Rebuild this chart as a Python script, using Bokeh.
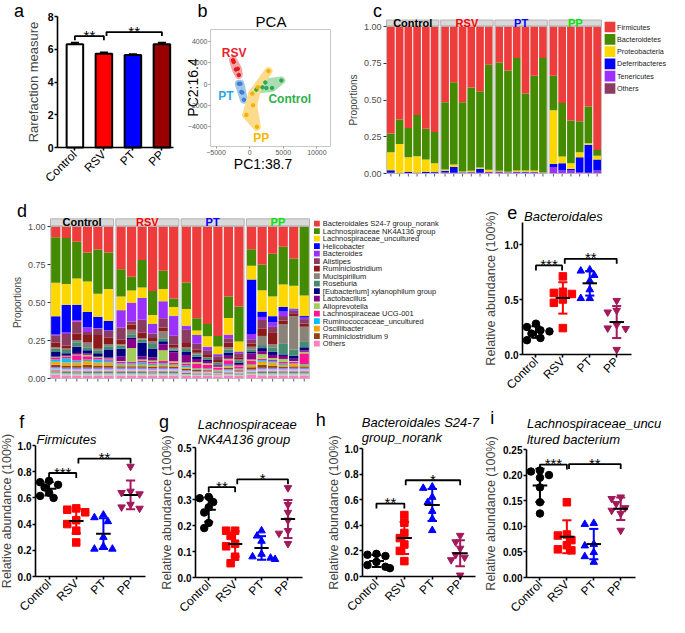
import math
import numpy as np
from bokeh.plotting import figure
from bokeh.layouts import row, column
from bokeh.models import Range1d, FixedTicker, NumeralTickFormatter
from bokeh.core.properties import value
from bokeh.embed import file_html
from bokeh.resources import INLINE

FONT = "Liberation Sans"

# ---------------- data ----------------
groups = ["Control", "RSV", "PT", "PP"]
group_colors = ["black", "#FF0000", "#0000FF", "#A3195B"]
group_markers = ["circle", "square", "triangle", "inverted_triangle"]

# (a) rarefaction
rare_mean = [6.30, 5.72, 5.65, 6.30]
rare_sem = [0.10, 0.08, 0.05, 0.10]
bar_fill = ["white", "#FF0000", "#0000FF", "#990000"]

# (b) PCA scores
pca_ctrl_x = [1000, 1900, 2330, 2480, 3330, 4710]
pca_ctrl_y = [-525, -310, 155, -370, -370, 340]
pca_rsv_x = [-2475, -2380, -2047, -1761, -1618]
pca_rsv_y = [2256, 2094, 1390, 1452, 865]
pca_pt_x = [-1618, -1380, -1238, -1095, -857]
pca_pt_y = [31, 31, -741, -803, -1483]
pca_pp_x = [2800, 1200, 400, 520, -500, 1080]
pca_pp_y = [1230, -300, -900, -2000, -2930, -4050]

# (c) phylum proportions, 24 samples (6 per group)
phyla = ["Firmicutes", "Bacteroidetes", "Proteobacteria", "Deferribacteres", "Tenericutes", "Others"]
phyla_colors = ["#EE3B3B", "#458B00", "#FFD700", "#0000FF", "#9B30FF", "#8B3A62"]
Firmicutes = [.728, .632, .69, .603, .695, .717, .516, .38, .516, .415, .44, .26,
              .245, .30, .215, .455, .335, .215, .335, .52, .64, .645, .545, .84]
Bacteroidetes = [.127, .168, .20, .281, .209, .213, .457, .558, .471, .567, .52, .715,
                 .737, .688, .765, .525, .645, .777, .235, .365, .29, .21, .25, .04]
Proteobacteria = [.123, .197, .098, .111, .084, .058, .009, .017, .004, .006, .007, .013,
                  .004, .004, .008, .008, .01, .002, .365, .045, .04, .035, .01, .025]
Deferribacteres = [.017, .001, .008, .001, .009, .007, .011, .04, .003, .002, .028, .002,
                   .002, .001, .001, .005, .002, .001, .02, .05, .01, .10, .19, .075]
Tenericutes = [.003, .001, .002, .001, .002, .003, .005, .004, .004, .002, .003, .008,
               .008, .004, .007, .004, .005, .003, .042, .018, .018, .008, .003, .018]
PhylumOthers = [.002, .001, .002, .004, .001, .002, .002, .001, .002, .008, .002, .002,
                .004, .003, .004, .003, .003, .002, .003, .002, .002, .002, .002, .002]

# (d) genus proportions
genera = ["Bacteroidales S24-7 group_norank", "Lachnospiraceae NK4A136 group",
          "Lachnospiraceae_uncultured", "Helicobacter", "Bacteroides", "Alistipes",
          "Ruminiclostridium", "Mucispirillum", "Roseburia", "[Eubacterium] xylanophilum group",
          "Lactobacillus", "Alloprevotella", "Lachnospiraceae UCG-001",
          "Ruminococcaceae_uncultured", "Oscillibacter", "Ruminiclostridium 9", "Others"]
genera_colors = ["#EE3B3B", "#458B00", "#FFD700", "#0000FF", "#9B30FF", "#8B3A62", "#8B1A1A",
                 "#8B8378", "#458B74", "#000080", "#8B008B", "#A2CD5A", "#FF1493", "#00BFFF",
                 "#F2A50C", "#8B4513", "#FF7FBF"]
S24_7 = [.07, .075, .10, .17, .15, .17, .28, .33, .22, .43, .29, .48,
         .37, .605, .64, .72, .46, .525, .15, .25, .18, .135, .21, .003]
NK4A136 = [.30, .30, .24, .19, .29, .24, .18, .09, .18, .16, .12, .056,
           .175, .08, .08, .07, .14, .23, .11, .17, .28, .25, .18, .45]
Lach_unc = [.22, .135, .17, .20, .15, .21, .09, .08, .07, .06, .08, .058,
            .11, .03, .07, .05, .11, .065, .09, .14, .13, .15, .15, .135]
Helico = [.12, .18, .10, .10, .075, .06, .003, .003, .003, .003, .003, .003,
          .003, .003, .003, .003, .003, .003, .36, .035, .04, .03, .005, .01]
Bacteroides = [.005, .01, .01, .03, .005, .005, .11, .12, .14, .06, .11, .13,
               .02, .055, .02, .01, .02, .01, .035, .02, .03, .03, .01, .01]
Alistipes = [.05, .075, .08, .02, .04, .045, .08, .02, .085, .03, .06, .06,
             .09, .04, .03, .025, .03, .025, .03, .055, .04, .03, .02, .03]
Rumini = [.03, .02, .04, .05, .09, .04, .03, .035, .035, .02, .025, .02,
          .03, .02, .015, .015, .03, .015, .02, .05, .075, .025, .015, .02]
Mucis = [.01, .01, .015, .03, .01, .015, .01, .03, .01, .02, .045, .01,
         .01, .01, .005, .005, .015, .01, .02, .06, .02, .13, .22, .095]
Roseb = [.02, .02, .03, .02, .02, .025, .02, .02, .02, .03, .02, .01,
         .02, .015, .01, .01, .02, .01, .015, .02, .03, .07, .04, .04]
Eubact = [.03, .015, .04, .02, .02, .05, .05, .01, .09, .06, .02, .01,
          .02, .015, .01, .005, .02, .01, .01, .02, .02, .01, .02, .02]
Lacto = [.005, .005, .01, .01, .005, .005, .03, .06, .02, .02, .04, .06,
         .05, .02, .015, .01, .02, .01, .04, .02, .02, .02, .015, .01]
Allopr = [.005, .005, .005, .01, .005, .005, .005, .09, .01, .01, .07, .01,
          .01, .01, .01, .005, .01, .005, .01, .03, .01, .02, .005, .01]
UCG001 = [.01, .01, .035, .02, .01, .01, .01, .01, .01, .01, .015, .01,
          .01, .03, .025, .015, .03, .015, .02, .01, .01, .01, .01, .07]
Rumino = [.015, .025, .012, .01, .02, .012, .01, .01, .015, .01, .01, .005,
          .01, .005, .005, .005, .01, .005, .005, .01, .01, .01, .005, .005]
Oscill = [.02, .02, .02, .025, .02, .02, .01, .01, .01, .01, .01, .01,
          .01, .008, .006, .006, .01, .006, .015, .02, .02, .01, .015, .01]
Rumini9 = [.015, .015, .015, .02, .015, .015, .01, .01, .01, .01, .01, .01,
           .01, .008, .006, .006, .01, .006, .015, .02, .015, .01, .01, .01]
GenusOthers = [.025, .02, .02, .02, .02, .02, .02, .02, .02, .02, .02, .02,
               .02, .018, .018, .015, .02, .018, .025, .02, .02, .02, .02, .02]
# minor genera drawn but not listed in the legend
minor_colors = ["#9F79EE", "#87CEFA", "#FA8072", "#6C7B8B", "#7CCD7C", "#B0C4DE"]
minor1 = [.010, .008, .012, .010, .009, .011, .010, .009, .008, .011, .010, .009,
          .007, .006, .006, .005, .008, .006, .007, .010, .009, .011, .010, .009]
minor2 = [.009, .010, .008, .009, .011, .008, .008, .010, .009, .008, .009, .010,
          .006, .005, .005, .004, .007, .005, .006, .009, .010, .008, .009, .010]
minor3 = [.008, .009, .009, .008, .008, .009, .009, .008, .010, .009, .008, .008,
          .006, .005, .005, .004, .006, .005, .006, .008, .008, .009, .008, .009]
minor4 = [.008, .007, .008, .009, .008, .008, .008, .009, .008, .008, .009, .008,
          .006, .005, .005, .004, .007, .005, .006, .008, .009, .008, .008, .008]
minor5 = [.008, .008, .007, .007, .007, .007, .007, .007, .008, .007, .007, .008,
          .005, .005, .005, .004, .006, .005, .005, .008, .007, .007, .008, .007]
minor6 = [.007, .008, .006, .007, .007, .007, .008, .007, .007, .007, .007, .007,
          .005, .004, .004, .004, .006, .004, .005, .007, .007, .007, .007, .007]

# (e-i) relative abundances per mouse
bact_ctrl = [0.28, 0.25, 0.22, 0.21, 0.19, 0.15, 0.13]
bact_rsv = [0.71, 0.57, 0.56, 0.55, 0.50, 0.47, 0.24]
bact_pt = [0.77, 0.76, 0.72, 0.67, 0.59, 0.51, 0.51]
bact_pp = [0.49, 0.40, 0.385, 0.27, 0.24, 0.235, 0.045]

firm_ctrl = [0.73, 0.72, 0.70, 0.68, 0.64, 0.615, 0.60]
firm_rsv = [0.52, 0.51, 0.49, 0.43, 0.40, 0.35, 0.26]
firm_pt = [0.47, 0.45, 0.42, 0.30, 0.23, 0.21, 0.21]
firm_pp = [0.84, 0.65, 0.64, 0.63, 0.55, 0.53, 0.52]

nk_ctrl = [0.31, 0.305, 0.29, 0.27, 0.25, 0.21, 0.19]
nk_rsv = [0.18, 0.18, 0.16, 0.13, 0.12, 0.08, 0.055]
nk_pt = [0.18, 0.16, 0.14, 0.09, 0.08, 0.075, 0.07]
nk_pp = [0.345, 0.28, 0.25, 0.22, 0.18, 0.17, 0.13]

s24_ctrl = [0.177, 0.17, 0.16, 0.114, 0.089, 0.076, 0.065]
s24_rsv = [0.48, 0.42, 0.34, 0.30, 0.25, 0.20, 0.12]
s24_pt = [0.70, 0.69, 0.62, 0.58, 0.51, 0.45, 0.36]
s24_pp = [0.32, 0.27, 0.22, 0.17, 0.15, 0.13, 0.01]

lu_ctrl = [0.209, 0.207, 0.20, 0.195, 0.176, 0.147, 0.125]
lu_rsv = [0.147, 0.084, 0.082, 0.073, 0.063, 0.055, 0.053]
lu_pt = [0.106, 0.104, 0.065, 0.062, 0.049, 0.041, 0.03]
lu_pp = [0.157, 0.154, 0.144, 0.136, 0.131, 0.125, 0.092]


# ---------------- helpers ----------------
class Canvas:
    """Figure whose plotting frame fills the whole canvas; (L, T, FW, FH) is the
    visual plot area inside it that the data ranges xr / yr are mapped to."""

    def __init__(self, W, H, L, T, FW, FH, xr, yr, axes=True):
        self.ux = (xr[1] - xr[0]) / FW
        self.uy = (yr[1] - yr[0]) / FH
        self.xr, self.yr, self.L, self.T = xr, yr, L, T
        x0 = xr[0] - L * self.ux
        x1 = xr[0] + (W - L) * self.ux
        y1 = yr[1] + T * self.uy
        y0 = yr[1] - (H - T) * self.uy
        kw = {} if axes else dict(x_axis_location=None, y_axis_location=None)
        p = figure(width=W, height=H, x_range=Range1d(x0, x1), y_range=Range1d(y0, y1),
                   output_backend="svg", toolbar_location=None, tools="", min_border=0, **kw)
        p.xgrid.visible = False
        p.ygrid.visible = False
        p.outline_line_color = None
        p.title.visible = False
        self.p = p

    def fx(self, px):
        return self.xr[0] + (px - self.L) * self.ux

    def fy(self, py):
        return self.yr[1] - (py - self.T) * self.uy

    def text(self, px, py, txt, size, color="black", style="normal", align="center", angle=0.0):
        self.p.text(x=[self.fx(px)], y=[self.fy(py)], text=[txt], text_font=value(FONT),
                    text_font_size=value(size), text_color=color, text_font_style=style,
                    text_align=align, text_baseline="middle", angle=angle)


def gp_axes(cv, yticks, yfmt, ylabel, ymax, label_standoff):
    p = cv.p
    p.yaxis.fixed_location = cv.xr[0]
    p.yaxis.bounds = (0, ymax)
    p.xaxis.fixed_location = cv.yr[0]
    p.xaxis.bounds = cv.xr
    for ax in (p.xaxis[0], p.yaxis[0]):
        ax.axis_line_width = 1.6
        ax.axis_line_color = "black"
        ax.major_tick_line_width = 1.6
        ax.major_tick_out = 3
        ax.major_tick_in = 0
        ax.minor_tick_line_color = None
        ax.major_label_text_font = FONT
        ax.major_label_text_color = "black"
        ax.axis_label_text_font = FONT
        ax.axis_label_text_font_style = "normal"
        ax.axis_label_text_font_size = "12.5px"
        ax.major_label_standoff = 1
    p.yaxis.axis_label_standoff = label_standoff
    p.yaxis.ticker = FixedTicker(ticks=yticks)
    p.yaxis.formatter = NumeralTickFormatter(format=yfmt)
    p.yaxis.major_label_text_font_style = "bold"
    p.yaxis.major_label_text_font_size = "10px"
    p.yaxis.axis_label = ylabel
    p.xaxis.ticker = FixedTicker(ticks=[0, 1, 2, 3])
    p.xaxis.major_label_overrides = {i: g for i, g in enumerate(groups)}
    p.xaxis.major_label_orientation = math.pi / 4
    p.xaxis.major_label_text_font_size = "12px"
    p.xaxis.major_label_standoff = 2


def bracket(p, x0, x1, y, tick, txt):
    p.line([x0, x0, x1, x1], [y - tick, y, y, y - tick], line_color="black", line_width=1.8)
    p.text(x=[(x0 + x1) / 2], y=[y], text=[txt], text_font=value(FONT),
           text_font_size=value("15px"), text_align="center", text_baseline="middle",
           text_color="black", y_offset=-1)


def swarm(vals, ppx, ppy, size):
    vals = np.asarray(vals, dtype=float)
    order = np.argsort(-vals)
    placed = []
    offs = np.zeros(len(vals))
    for i in order:
        ox = 0.0
        for c in [0, -1, 1, -2, 2, -3, 3]:
            ox = c * size * 0.6 / ppx
            if all(math.hypot((ox - po) * ppx, (vals[i] - pv) * ppy) >= size * 0.9
                   for po, pv in placed):
                break
        offs[i] = ox
        placed.append((ox, vals[i]))
    return offs


def dot_panel(W, H, L, T, FW, FH, ymax, yticks, yfmt, data, brackets, title_lines, title_px,
              letter, letter_px, label_standoff):
    xr = (-0.5, 3.55)
    yr = (0, ymax)
    cv = Canvas(W, H, L, T, FW, FH, xr, yr)
    p = cv.p
    ppx, ppy = 1 / cv.ux, 1 / cv.uy
    for gi, vals in enumerate(data):
        v = np.asarray(vals, dtype=float)
        m = v.mean()
        sd = v.std(ddof=1)
        col = group_colors[gi]
        offs = swarm(v, ppx, ppy, 7.5)
        p.scatter(x=gi + offs, y=v, marker=group_markers[gi], size=7.5,
                  fill_color=col, line_color=col)
        p.segment(x0=[gi], y0=[m - sd], x1=[gi], y1=[m + sd], line_color=col, line_width=2)
        p.segment(x0=[gi - 0.17, gi - 0.17], y0=[m - sd, m + sd], x1=[gi + 0.17, gi + 0.17],
                  y1=[m - sd, m + sd], line_color=col, line_width=2)
        p.segment(x0=[gi - 0.27], y0=[m], x1=[gi + 0.27], y1=[m], line_color="black",
                  line_width=2)
    tick = 5 * cv.uy
    for x0, x1, y, txt in brackets:
        bracket(p, x0, x1, y, tick, txt)
    gp_axes(cv, yticks, yfmt, "Relative abundance (100%)", ymax, label_standoff)
    for line, (tx, ty) in zip(title_lines, title_px):
        cv.text(tx, ty, line, "13px", style="italic", align="left")
    cv.text(letter_px[0], letter_px[1], letter, "18px")
    return p


def facet_panel(W, H, L, T, FW, FH, strip_px, layers, colors, letter, letter_px):
    P = 6.2
    xr = (-0.5, 3 * P + 5.5)
    yr = (0, 1.0)
    cv = Canvas(W, H, L, T, FW, FH, xr, yr, axes=True)
    p = cv.p
    p.xaxis.visible = False
    n = len(layers[0])
    xs = [(i // 6) * P + (i % 6) for i in range(n)]
    arr = np.array(layers, dtype=float)
    tot = arr.sum(axis=0)
    cum = np.zeros(n)
    for vals, col in zip(arr, colors):
        v = vals / tot
        p.vbar(x=xs, bottom=cum, top=cum + v, width=0.88, fill_color=col, line_color=None)
        cum = cum + v
    # small ticks under each bar
    p.segment(x0=xs, y0=[0] * n, x1=xs, y1=[-3 * cv.uy] * n, line_color="#333333", line_width=0.8)
    ytop = cv.fy(strip_px)
    strip_colors = ["black", "#FF0000", "#0000FF", "#00E600"]
    for k, g in enumerate(groups):
        x0 = k * P - 0.5
        x1 = k * P + 5.5
        p.quad(left=[x0], right=[x1], bottom=[0], top=[1], fill_color=None,
               line_color="#B3B3B3", line_width=0.8)
        p.quad(left=[x0], right=[x1], bottom=[1.004], top=[ytop], fill_color="#D9D9D9",
               line_color="#A6A6A6", line_width=0.8)
        p.text(x=[(x0 + x1) / 2], y=[(1.004 + ytop) / 2], text=[g], text_font=value(FONT),
               text_font_size=value("11px"), text_font_style="bold", text_color=strip_colors[k],
               text_align="center", text_baseline="middle")
    p.yaxis.fixed_location = -0.5
    p.yaxis.bounds = (0, 1)
    p.yaxis.ticker = FixedTicker(ticks=[0, 0.25, 0.5, 0.75, 1.0])
    p.yaxis.formatter = NumeralTickFormatter(format="0.00")
    p.yaxis.axis_line_color = None
    p.yaxis.major_tick_out = 3
    p.yaxis.major_tick_in = 0
    p.yaxis.major_tick_line_color = "#333333"
    p.yaxis.minor_tick_line_color = None
    p.yaxis.major_label_text_font = FONT
    p.yaxis.major_label_text_font_size = "9px"
    p.yaxis.major_label_text_color = "#4D4D4D"
    p.yaxis.major_label_standoff = 2
    p.yaxis.axis_label = "Proportions"
    p.yaxis.axis_label_text_font = FONT
    p.yaxis.axis_label_text_font_style = "normal"
    p.yaxis.axis_label_text_font_size = "10px"
    p.yaxis.axis_label_standoff = 2
    cv.text(letter_px[0], letter_px[1], letter, "18px")
    return p


def legend_fig(W, H, names, colors, xbox, bw, bh, y0, dy, xtext, fs):
    p = figure(width=W, height=H, x_range=Range1d(0, W), y_range=Range1d(H, 0),
               output_backend="svg", toolbar_location=None, tools="", min_border=0,
               x_axis_location=None, y_axis_location=None)
    p.xgrid.visible = False
    p.ygrid.visible = False
    p.outline_line_color = None
    p.title.visible = False
    nn = len(names)
    ys = [y0 + i * dy for i in range(nn)]
    p.rect(x=[xbox] * nn, y=ys, width=bw, height=bh, fill_color=colors, line_color=None)
    p.text(x=[xtext] * nn, y=ys, text=names, text_font=value(FONT), text_font_size=value(fs),
           text_baseline="middle", text_align="left", text_color="#1A1A1A")
    return p


def convex_hull(px, py):
    pts = sorted(set(zip(px, py)))
    if len(pts) < 3:
        return [q[0] for q in pts], [q[1] for q in pts]

    def cross(o, a, b):
        return (a[0] - o[0]) * (b[1] - o[1]) - (a[1] - o[1]) * (b[0] - o[0])
    lower, upper = [], []
    for q in pts:
        while len(lower) >= 2 and cross(lower[-2], lower[-1], q) <= 0:
            lower.pop()
        lower.append(q)
    for q in reversed(pts):
        while len(upper) >= 2 and cross(upper[-2], upper[-1], q) <= 0:
            upper.pop()
        upper.append(q)
    hh = lower[:-1] + upper[:-1]
    return [q[0] for q in hh], [q[1] for q in hh]


# ---------------- panel a ----------------
cva = Canvas(176, 190, 57, 16, 116, 131, (-0.6, 3.4), (0, 8))
fa = cva.p
fa.vbar(x=[0, 1, 2, 3], top=rare_mean, width=0.57, fill_color=bar_fill,
        line_color="black", line_width=2)
xs_a = np.arange(4)
tops = np.array(rare_mean) + np.array(rare_sem)
fa.segment(x0=xs_a, y0=rare_mean, x1=xs_a, y1=tops, line_color="black", line_width=2)
fa.segment(x0=xs_a - 0.14, y0=tops, x1=xs_a + 0.14, y1=tops, line_color="black", line_width=2)
tick_a = 4 * cva.uy
bracket(fa, 0, 1, 6.8, tick_a, "**")
bracket(fa, 1.09, 3.0, 7.05, tick_a, "**")
gp_axes(cva, [0, 2, 4, 6, 8], "0", "Rarefaction measure", 8, 4)
fa.yaxis.axis_label_text_font_size = "13px"
fa.yaxis.major_label_text_font_size = "10.5px"
cva.text(18.5, 10.5, "a", "18px")

# ---------------- panel b ----------------
cvb = Canvas(156, 190, 34, 29, 120, 117, (-5830, 12030), (-5910, 5170))
fb = cvb.p
fb.quad(left=[cvb.xr[0]], right=[cvb.xr[1]], bottom=[cvb.yr[0]], top=[cvb.yr[1]],
        fill_color=None, line_color="#C8C8C8", line_width=1)
pca_sets = [
    ("Control", pca_ctrl_x, pca_ctrl_y, "#A9DEB3", "#2DAA4F", "#2DB04B", (5970, -1376)),
    ("PT", pca_pt_x, pca_pt_y, "#A2C6EA", "#3C7FD0", "#2AA7E1", (-3550, -1147)),
    ("RSV", pca_rsv_x, pca_rsv_y, "#F5A3A4", "#E31A1C", "#E8212B", (-2319, 2982)),
    ("PP", pca_pp_x, pca_pp_y, "#FCDC8C", "#F2B300", "#F8B800", (1740, -5092)),
]
for name, gx, gy, fillc, ptc, labc, lpos in pca_sets:
    if name == "PP":
        order = list(np.argsort(-np.array(gy)))
        for k in range(len(order) - 2):
            idx = order[k:k + 3]
            hx, hy = convex_hull([gx[i] for i in idx], [gy[i] for i in idx])
            fb.patch(hx, hy, fill_color=fillc, line_color=fillc, line_width=8, line_join="round")
    else:
        hx, hy = convex_hull(gx, gy)
        fb.patch(hx, hy, fill_color=fillc, line_color=fillc, line_width=8, line_join="round")
for name, gx, gy, fillc, ptc, labc, lpos in pca_sets:
    fb.scatter(x=gx, y=gy, size=3.5, fill_color=ptc, line_color=ptc)
    fb.text(x=[lpos[0]], y=[lpos[1]], text=[name], text_font=value(FONT),
            text_font_size=value("12px"), text_font_style="bold", text_color=labc,
            text_align="center", text_baseline="middle")
fb.xaxis.fixed_location = cvb.yr[0]
fb.yaxis.fixed_location = cvb.xr[0]
fb.xaxis.ticker = FixedTicker(ticks=[-5000, 0, 5000, 10000])
fb.yaxis.ticker = FixedTicker(ticks=[-4000, -2000, 0, 2000, 4000])
for ax in (fb.xaxis[0], fb.yaxis[0]):
    ax.axis_line_color = None
    ax.major_tick_out = 2
    ax.major_tick_in = 0
    ax.major_tick_line_color = "#999999"
    ax.minor_tick_line_color = None
    ax.major_label_text_font = FONT
    ax.major_label_text_font_size = "7px"
    ax.major_label_text_color = "#595959"
    ax.major_label_standoff = 1
cvb.text(86.5, 163, "PC1:38.7", "14px")
cvb.text(16.4, 87, "PC2:16.4", "14px", angle=math.pi / 2)
cvb.text(94.5, 21.4, "PCA", "15px")
cvb.text(26, 10.5, "b", "18px")

# ---------------- panel c ----------------
fc = facet_panel(271, 190, 54, 26, 215, 147, 19.5,
                 [PhylumOthers, Tenericutes, Deferribacteres, Proteobacteria, Bacteroidetes,
                  Firmicutes],
                 phyla_colors[::-1], "c", (45, 10.5))
fcl = legend_fig(66, 190, phyla, phyla_colors, 6.5, 10.7, 10.7, 26.5, 12.3, 13.5, "7.2px")

# ---------------- panel d ----------------
d_layers = [GenusOthers, minor6, minor5, minor4, minor3, minor2, minor1, Rumini9, Oscill,
            Rumino, UCG001, Allopr, Lacto, Eubact, Roseb, Mucis, Rumini, Alistipes,
            Bacteroides, Helico, Lach_unc, NK4A136, S24_7]
d_cols = [genera_colors[16]] + minor_colors[::-1] + genera_colors[15::-1]
fd = facet_panel(311, 195, 50, 36, 259, 152, 28.3, d_layers, d_cols, "d", (21.5, 20))
fdl = legend_fig(170, 195, genera, genera_colors, 5.4, 5.8, 5.8, 33.2, 7.5, 11.3, "7.5px")

# ---------------- panels e-i ----------------
fe = dot_panel(188, 209, 41, 32, 109, 132, 1.2, [0, 0.5, 1.0], "0.0",
               [bact_ctrl, bact_rsv, bact_pt, bact_pp],
               [(0, 0.97, 0.81, "***"), (1.07, 3, 0.87, "**")],
               ["Bacteroidales"], [(42.5, 26.4)], "e", (30.7, 22), 4)
ff = dot_panel(158, 232, 35, 60, 110, 131, 1.0, [0, 0.2, 0.4, 0.6, 0.8, 1.0], "0.0",
               [firm_ctrl, firm_rsv, firm_pt, firm_pp],
               [(0, 1.0, 0.79, "***"), (1.08, 3, 0.90, "**")],
               ["Firmicutes"], [(36, 53.5)], "f", (21.2, 36), 1)
fg = dot_panel(158, 232, 37, 62, 107, 130, 0.5, [0, 0.1, 0.2, 0.3, 0.4, 0.5], "0.0",
               [nk_ctrl, nk_rsv, nk_pt, nk_pp],
               [(0, 1.0, 0.3475, "**"), (1.08, 3, 0.3775, "*")],
               ["Lachnospiraceae", "NK4A136 group"], [(39.3, 39), (39.3, 53.5)], "g",
               (5.6, 36), 1)
fh = dot_panel(165, 232, 46, 63, 113, 128, 1.0, [0, 0.2, 0.4, 0.6, 0.8, 1.0], "0.0",
               [s24_ctrl, s24_rsv, s24_pt, s24_pp],
               [(0, 1.0, 0.57, "**"), (1.05, 3, 0.752, "*")],
               ["Bacteroidales S24-7", "group_norank"], [(45.3, 37), (45.3, 52)], "h",
               (4.3, 34), 1)
fi = dot_panel(188, 218, 45, 50, 109, 128, 0.25, [0, 0.05, 0.1, 0.15, 0.2, 0.25], "0.00",
               [lu_ctrl, lu_rsv, lu_pt, lu_pp],
               [(0, 1.0, 0.2205, "***"), (1.08, 3, 0.2215, "**")],
               ["Lachnospiraceae_uncu", "ltured bacterium"], [(45.4, 24), (45.4, 39.6)], "i",
               (10.7, 18.6), 2)

layout = column(
    row(fa, fb, fc, fcl),
    row(column(row(fd, fdl), row(ff, fg, fh)), column(fe, fi)),
)

open("out.html", "w").write(file_html(layout, INLINE))
